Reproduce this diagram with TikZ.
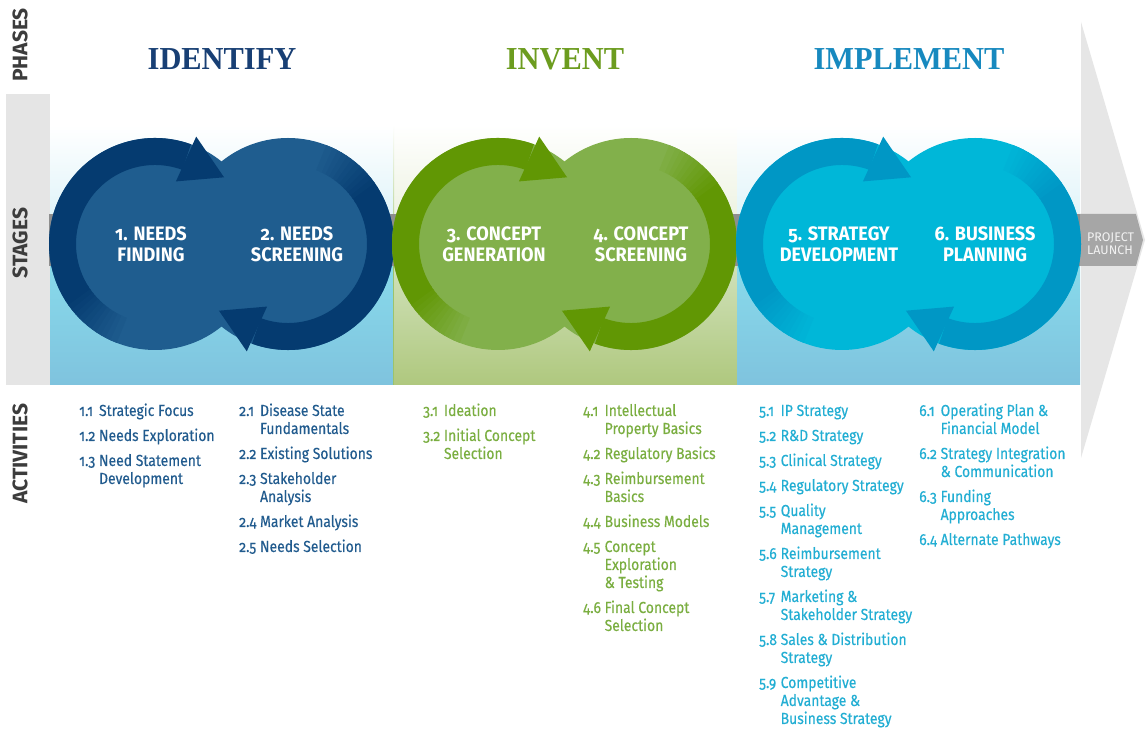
\documentclass[tikz,border=0pt]{standalone}
\usepackage{fontspec}
\setmainfont{Fira Sans}[Numbers=OldStyle]
\newfontfamily\actfont{Fira Sans}[Numbers=OldStyle,FakeStretch=0.87,FakeBold=0.3]
\newfontfamily\stagefont{Fira Sans}[Numbers=OldStyle,FakeStretch=0.93]
\newfontfamily\titlefont{Liberation Serif}[FakeStretch=0.95]
\usetikzlibrary{calc}
\definecolor{idRing}{HTML}{053B70}
\definecolor{idFill}{HTML}{1F5D8F}
\definecolor{inRing}{HTML}{619704}
\definecolor{inFill}{HTML}{82B04B}
\definecolor{imRing}{HTML}{0097C5}
\definecolor{imFill}{HTML}{00B7D8}
\definecolor{idTitle}{HTML}{183F74}
\definecolor{inTitle}{HTML}{6C9C1F}
\definecolor{imTitle}{HTML}{1789BF}
\definecolor{idText}{HTML}{215B8E}
\definecolor{inText}{HTML}{7AAE40}
\definecolor{imText}{HTML}{22AED3}
\definecolor{idUp}{HTML}{CFEEF6}
\definecolor{idLoTop}{HTML}{88DAEB}
\definecolor{idLoBot}{HTML}{7FC3DE}
\definecolor{inUp}{HTML}{E4ECD2}
\definecolor{inLoTop}{HTML}{D0E1BA}
\definecolor{inLoBot}{HTML}{AFC87E}
\definecolor{inEdge}{HTML}{9CC36C}
\definecolor{colGray}{HTML}{E5E5E5}
\definecolor{chevGray}{HTML}{E6E6E6}
\definecolor{stripeGray}{HTML}{8E8E8E}
\definecolor{launchGray}{HTML}{A6A6A6}
\definecolor{launchText}{HTML}{F2F2F2}
\definecolor{sideGray}{HTML}{3C3C3C}
\newcommand\acttab[1]{\begin{tabular}[t]{@{}l@{\ }l@{}}#1\end{tabular}}
\newcommand\ctab[1]{\begin{tabular}[t]{@{}c@{}}#1\end{tabular}}
% #1 section left x, #2 ring colour, #3 fill colour, #4 name prefix
\newcommand\StagePair[4]{%
  \coordinate (#4a) at ({#1+105},487);
  \coordinate (#4b) at ({#1+238},487);
  \fill[#3] (#4a) circle[radius=106pt];
  \fill[#3] (#4b) circle[radius=106pt];
  % left ring
  \draw[ringline, #2] ($(#4a)+(70:92.5pt)$) arc[start angle=70, end angle=213, radius=92.5pt];
  \foreach \i in {0,...,11}{%
    \pgfmathtruncatemacro\fadepct{100-\i*8}%
    \pgfmathsetmacro\fadea{212+\i*3}%
    \draw[ringline, color=#2!\fadepct!#3] ($(#4a)+(\fadea:92.5pt)$) arc[start angle=\fadea, end angle=\fadea+4, radius=92.5pt];
  }
  \fill[#2] ($(#4a)+(69:115pt)$) -- ($(#4a)+(44:96pt)$) -- ($(#4a)+(71.5:66pt)$) -- cycle;
  % right ring
  \draw[ringline, #2] ($(#4b)+(-110:92.5pt)$) arc[start angle=-110, end angle=33, radius=92.5pt];
  \foreach \i in {0,...,11}{%
    \pgfmathtruncatemacro\fadepct{100-\i*8}%
    \pgfmathsetmacro\fadea{32+\i*3}%
    \draw[ringline, color=#2!\fadepct!#3] ($(#4b)+(\fadea:92.5pt)$) arc[start angle=\fadea, end angle=\fadea+4, radius=92.5pt];
  }
  \fill[#2] ($(#4b)+(249:115pt)$) -- ($(#4b)+(224:96pt)$) -- ($(#4b)+(251.5:66pt)$) -- cycle;
}
\tikzset{
  ringline/.style={line width=27pt},
  sidelabel/.style={rotate=90, inner sep=0pt, text=sideGray, font=\fontsize{21}{21}\selectfont\bfseries},
  phasetitle/.style={anchor=base, inner sep=0pt, font=\titlefont\fontsize{32}{32}\selectfont\bfseries},
  stagetext/.style={anchor=base, inner sep=0pt, text=white, font=\stagefont\fontsize{19.5}{21}\selectfont\bfseries},
  actcol/.style={anchor=base west, inner sep=0pt, font=\actfont\fontsize{16}{18}\selectfont},
}
\begin{document}
\begin{tikzpicture}[x=1pt,y=1pt]
\useasboundingbox (0,0) rectangle (1148,731);
\fill[white] (0,0) rectangle (1148,731);
% chevron
\fill[chevGray] (1081,709) -- (1145,491) -- (1081,273) -- cycle;
% stages column
\fill[colGray] (6,346) rectangle (50,637);
% bands
\shade[top color=white, bottom color=idUp] (50,465) rectangle (393,606);
\shade[top color=idLoTop, bottom color=idLoBot] (50,346) rectangle (393,466);
\shade[top color=white, bottom color=inUp] (393,465) rectangle (737,606);
\shade[top color=inLoTop, bottom color=inLoBot] (393,346) rectangle (737,466);
\shade[top color=white, bottom color=idUp] (737,465) rectangle (1080,606);
\shade[top color=idLoTop, bottom color=idLoBot] (737,346) rectangle (1080,466);
\shade[top color=white, bottom color=inEdge] (393,606) rectangle (394,465);
\fill[inEdge] (393,346) rectangle (394,466);
% stripe and launch arrow
\fill[stripeGray] (49,465) rectangle (1080,517);
\fill[launchGray] (1080,465) -- (1136,465) -- (1143,491) -- (1136,517) -- (1080,517) -- cycle;
% stage circles
\StagePair{50}{idRing}{idFill}{id}
\StagePair{393}{inRing}{inFill}{in}
\StagePair{737}{imRing}{imFill}{im}
% side labels
\node[sidelabel] (phases) at (20,686) {PHASES};
\node[sidelabel] (stages) at (20,488) {STAGES};
\node[sidelabel] (activities) at (20,277) {ACTIVITIES};
% phase titles
\node[phasetitle, text=idTitle] (identify) at (222,661) {IDENTIFY};
\node[phasetitle, text=inTitle] (invent) at (565,661) {INVENT};
\node[phasetitle, text=imTitle] (implement) at (909,661) {IMPLEMENT};
% stage texts
\node[stagetext] (s1) at (151,490) {\ctab{1. NEEDS\\FINDING}};
\node[stagetext] (s2) at (297,490) {\ctab{2. NEEDS\\SCREENING}};
\node[stagetext] (s3) at (494,490) {\ctab{3. CONCEPT\\GENERATION}};
\node[stagetext] (s4) at (641,490) {\ctab{4. CONCEPT\\SCREENING}};
\node[stagetext] (s5) at (839,490) {\ctab{5. STRATEGY\\DEVELOPMENT}};
\node[stagetext] (s6) at (985,490) {\ctab{6. BUSINESS\\PLANNING}};
% project launch
\node[anchor=base west, inner sep=0pt, text=launchText, font=\fontsize{12.5}{12.5}\selectfont] (launch) at (1087,489) {\begin{tabular}[t]{@{}l@{}}PROJECT\\LAUNCH\end{tabular}};
% activities
\node[actcol, text=idText] (a1) at (79,315) {\acttab{1.1 & Strategic Focus\\[7pt] 1.2 & Needs Exploration\\[7pt] 1.3 & Need Statement\\ & Development}};
\node[actcol, text=idText] (a2) at (239,315) {\acttab{2.1 & Disease State\\ & Fundamentals\\[7pt] 2.2 & Existing Solutions\\[7pt] 2.3 & Stakeholder\\ & Analysis\\[7pt] 2.4 & Market Analysis\\[7pt] 2.5 & Needs Selection}};
\node[actcol, text=inText] (a3) at (423,315) {\acttab{3.1 & Ideation\\[7pt] 3.2 & Initial Concept\\ & Selection}};
\node[actcol, text=inText] (a4) at (583,315) {\acttab{4.1 & Intellectual\\ & Property Basics\\[7pt] 4.2 & Regulatory Basics\\[7pt] 4.3 & Reimbursement\\ & Basics\\[7pt] 4.4 & Business Models\\[7pt] 4.5 & Concept\\ & Exploration\\ & \& Testing\\[7pt] 4.6 & Final Concept\\ & Selection}};
\node[actcol, text=imText] (a5) at (759,315) {\acttab{5.1 & IP Strategy\\[7pt] 5.2 & R\&D Strategy\\[7pt] 5.3 & Clinical Strategy\\[7pt] 5.4 & Regulatory Strategy\\[7pt] 5.5 & Quality\\ & Management\\[7pt] 5.6 & Reimbursement\\ & Strategy\\[7pt] 5.7 & Marketing \&\\ & Stakeholder Strategy\\[7pt] 5.8 & Sales \& Distribution\\ & Strategy\\[7pt] 5.9 & Competitive\\ & Advantage \&\\ & Business Strategy}};
\node[actcol, text=imText] (a6) at (919,315) {\acttab{6.1 & Operating Plan \&\\ & Financial Model\\[7pt] 6.2 & Strategy Integration\\ & \& Communication\\[7pt] 6.3 & Funding\\ & Approaches\\[7pt] 6.4 & Alternate Pathways}};
\end{tikzpicture}
\end{document}
